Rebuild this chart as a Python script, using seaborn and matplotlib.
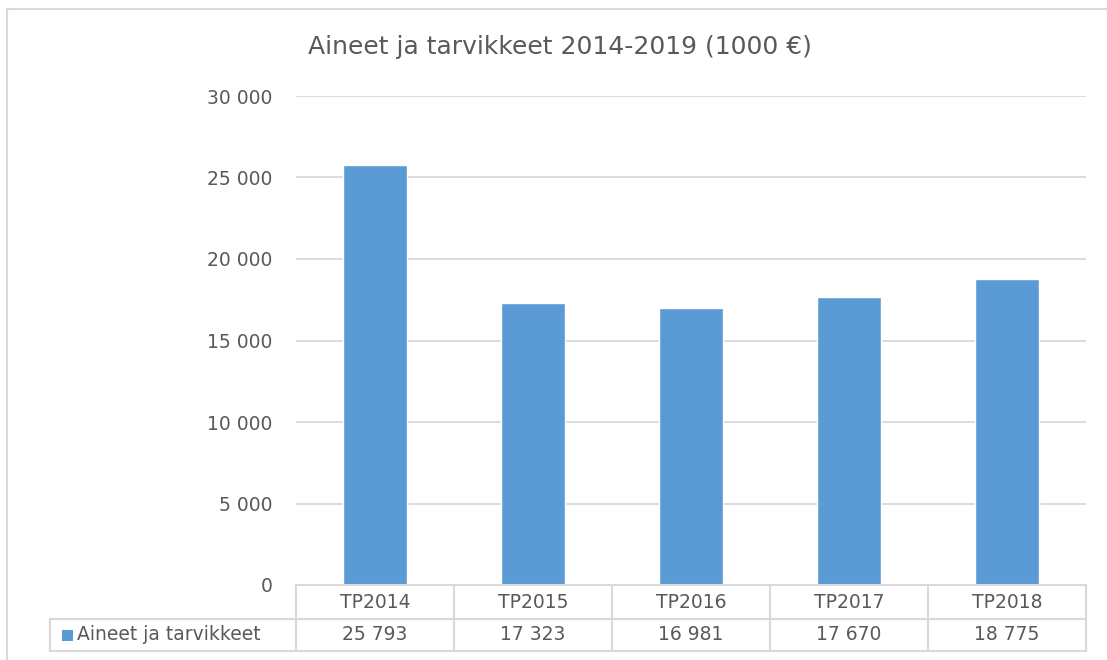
import matplotlib
matplotlib.use("Agg")
import matplotlib.pyplot as plt
import matplotlib.transforms as mtransforms
from matplotlib.lines import Line2D
from matplotlib.patches import Rectangle
import seaborn as sns
import pandas as pd

# data
categories = ["TP2014", "TP2015", "TP2016", "TP2017", "TP2018"]
values = [25793, 17323, 16981, 17670, 18775]
value_labels = ["25 793", "17 323", "16 981", "17 670", "18 775"]
series_name = "Aineet ja tarvikkeet"
title = "Aineet ja tarvikkeet 2014-2019 (1000 €)"
yticks = [0, 5000, 10000, 15000, 20000, 25000, 30000]
ytick_labels = ["0", "5 000", "10 000", "15 000", "20 000", "25 000", "30 000"]

sns.set_theme(style="white")
plt.rcParams['font.family'] = ['DejaVu Sans']

BAR = "#5b9bd5"
GRID = "#d9d9d9"
TXT = "#595959"
FS = 13.5

df = pd.DataFrame({"cat": categories, "val": values})

fig = plt.figure(figsize=(11.07, 6.6), dpi=100)
W, H = 1107, 660
ax = fig.add_axes([296 / W, 1 - 585 / H, (1086 - 296) / W, (585 - 96) / H])

sns.barplot(data=df, x="cat", y="val", color=BAR, width=0.4, ax=ax, saturation=1)

ax.set_ylim(0, 30000)
ax.set_xlim(-0.5, len(categories) - 0.5)
ax.set_yticks(yticks)
ax.set_yticklabels(ytick_labels, color=TXT, fontsize=FS)
ax.tick_params(axis="y", length=0, pad=17)
ax.set_xticks([])
ax.set_xlabel("")
ax.set_ylabel("")
for s in ax.spines.values():
    s.set_visible(False)
ax.yaxis.grid(True, color=GRID, linewidth=1.3)
ax.set_axisbelow(True)

# outer chart border
fig.add_artist(Rectangle((7 / W, -0.1), 1.2, 1 - 9 / H + 0.1, transform=fig.transFigure,
                         fill=False, edgecolor=GRID, linewidth=1.5))

fig.text(560 / W, 1 - 47 / H, title, ha="center", va="center", color=TXT, fontsize=18)

# data table under the axis
tr = mtransforms.blended_transform_factory(ax.transData, fig.transFigure)
y0 = 1 - 585 / H
y1 = 1 - 619 / H
y2 = 1 - 651 / H
x_left = -0.5
x_right = len(categories) - 0.5
lab_left = 50 / W
line_kw = dict(color=GRID, linewidth=1.5)

fig.add_artist(Line2D([x_left, x_right], [y0, y0], transform=tr, **line_kw))
fig.add_artist(Line2D([x_left, x_right], [y1, y1], transform=tr, **line_kw))
fig.add_artist(Line2D([x_left, x_right], [y2, y2], transform=tr, **line_kw))
fig.add_artist(Line2D([lab_left, 296 / W], [y1, y1], transform=fig.transFigure, **line_kw))
fig.add_artist(Line2D([lab_left, 296 / W], [y2, y2], transform=fig.transFigure, **line_kw))
fig.add_artist(Line2D([lab_left, lab_left], [y1, y2], transform=fig.transFigure, **line_kw))
for i in range(len(categories) + 1):
    fig.add_artist(Line2D([i - 0.5, i - 0.5], [y0, y2], transform=tr, **line_kw))

for i, (c, v) in enumerate(zip(categories, value_labels)):
    fig.text(i, (y0 + y1) / 2, c, transform=tr, ha="center", va="center", color=TXT, fontsize=FS)
    fig.text(i, (y1 + y2) / 2, v, transform=tr, ha="center", va="center", color=TXT, fontsize=FS)

fig.add_artist(Rectangle((62 / W, 1 - 641 / H), 11 / W, 11 / H, transform=fig.transFigure,
                         facecolor=BAR, edgecolor="none"))
fig.text(77 / W, (y1 + y2) / 2, series_name, ha="left", va="center", color=TXT, fontsize=FS)

fig.savefig("out.png", dpi=100, facecolor="white")
